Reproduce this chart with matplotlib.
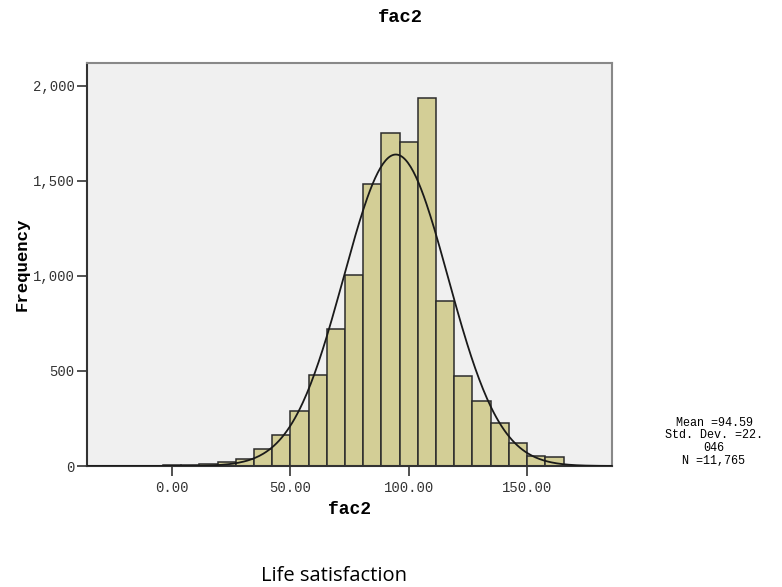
import numpy as np
import matplotlib.pyplot as plt
from matplotlib.ticker import FuncFormatter

# histogram of fac2
bin_width = 7.7
bin_left = [-3.9 + bin_width * i for i in range(22)]
counts = [5, 3, 10, 21, 35, 89, 163, 289, 479, 721, 1005, 1484,
          1751, 1707, 1935, 866, 474, 342, 225, 119, 53, 46]
mean, std, n = 94.59, 22.046, 11765
x_ticks = [0, 50, 100, 150]
y_ticks = [0, 500, 1000, 1500, 2000]
stats_lines = ['Mean =94.59', 'Std. Dev. =22.', '046', 'N =11,765']

fig = plt.figure(figsize=(7.82, 5.87), dpi=100)
ax = fig.add_axes([87/782, 1 - 466/587, (612 - 87)/782, (466 - 63)/587])
ax.set_facecolor('#f0f0f0')

ax.bar(bin_left, counts, width=bin_width, align='edge',
       color='#d3ce96', edgecolor='#2b2b2b', linewidth=1.1, zorder=2)

# normal curve from the reported mean / sd
xs = np.linspace(-36, 186, 400)
curve = n * bin_width / (std * np.sqrt(2 * np.pi)) * np.exp(-0.5 * ((xs - mean) / std) ** 2)
ax.plot(xs, curve, color='#1a1a1a', linewidth=1.3, zorder=3)

ax.set_xlim(-36, 186)
ax.set_ylim(0, 2121)
ax.set_xticks(x_ticks)
ax.set_yticks(y_ticks)
ax.xaxis.set_major_formatter(FuncFormatter(lambda v, p: f"{v:.2f}"))
ax.yaxis.set_major_formatter(FuncFormatter(lambda v, p: f"{int(v):,}"))
ax.tick_params(direction='out', length=7, width=1.2, color='#333333',
               labelsize=10, labelcolor='#333333')
ax.tick_params(axis='y', pad=2)
ax.tick_params(axis='x', pad=4)
for lab in ax.get_xticklabels() + ax.get_yticklabels():
    lab.set_family('Liberation Mono')

for s in ['left', 'bottom']:
    ax.spines[s].set_color('#333333')
    ax.spines[s].set_linewidth(1.5)
for s in ['top', 'right']:
    ax.spines[s].set_color('#888888')
    ax.spines[s].set_linewidth(1.5)

ax.set_xlabel('fac2', family='Liberation Mono', fontweight='bold', fontsize=13, labelpad=4)
ax.set_ylabel('Frequency', family='Liberation Mono', fontweight='bold', fontsize=12.5, labelpad=2)

fig.text(400/782, 1 - 18/587, 'fac2', family='Liberation Mono', fontweight='bold',
         fontsize=13.5, ha='center', va='center')

for i, line in enumerate(stats_lines):
    fig.text(714/782, 1 - (423 + 12.5 * i)/587, line, family='Liberation Mono',
             fontsize=8.5, ha='center', va='center')

fig.text(334/782, 1 - 576/587, 'Life satisfaction', family='Open Sans',
         fontsize=14.5, ha='center', va='center')

fig.savefig('out.png', dpi=100)
